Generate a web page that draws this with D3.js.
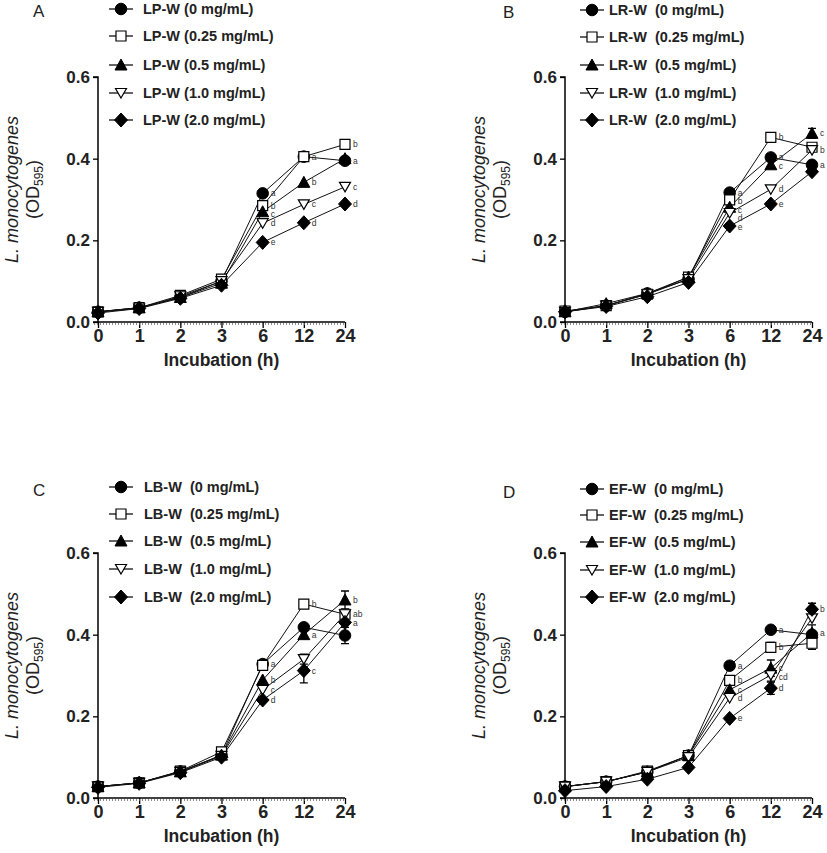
<!DOCTYPE html>
<html><head><meta charset="utf-8">
<script src="https://cdn.jsdelivr.net/npm/d3@7"></script>
<style>body{margin:0;background:#fff}svg{display:block}text{white-space:pre}</style>
</head><body>
<svg id="chart" width="827" height="853"></svg>
<script>
// ---------- DATA ----------
const hours = ["0","1","2","3","6","12","24"];
const doses = ["0 mg/mL","0.25 mg/mL","0.5 mg/mL","1.0 mg/mL","2.0 mg/mL"];
const panelLetters = ["A","B","C","D"];
const extracts = ["LP-W","LR-W","LB-W","EF-W"];
const yTicks = [0.0, 0.2, 0.4, 0.6];
const lettersHours = ["6","12","24"];

// OD595 values, one row per dose (0, 0.25, 0.5, 1.0, 2.0 mg/mL)
const valuesA = [
  [0.025,0.035,0.060,0.100,0.315,0.405,0.395],
  [0.025,0.035,0.065,0.105,0.285,0.405,0.435],
  [0.025,0.035,0.060,0.095,0.270,0.342,0.400],
  [0.025,0.033,0.063,0.100,0.242,0.288,0.331],
  [0.022,0.033,0.058,0.090,0.195,0.243,0.289]
];
const valuesB = [
  [0.025,0.040,0.070,0.105,0.317,0.403,0.385],
  [0.027,0.040,0.068,0.110,0.299,0.452,0.428],
  [0.025,0.045,0.070,0.110,0.281,0.385,0.462],
  [0.025,0.040,0.068,0.105,0.267,0.325,0.421],
  [0.025,0.038,0.062,0.097,0.235,0.289,0.368]
];
const valuesC = [
  [0.028,0.037,0.065,0.105,0.328,0.418,0.398],
  [0.028,0.037,0.066,0.113,0.325,0.475,0.450],
  [0.028,0.037,0.064,0.105,0.289,0.400,0.485],
  [0.028,0.037,0.064,0.103,0.265,0.340,0.450],
  [0.026,0.036,0.062,0.100,0.240,0.312,0.430]
];
const valuesD = [
  [0.028,0.040,0.064,0.104,0.324,0.412,0.400],
  [0.028,0.040,0.066,0.104,0.288,0.369,0.379],
  [0.028,0.040,0.064,0.104,0.265,0.318,0.404],
  [0.028,0.040,0.064,0.100,0.245,0.301,0.440],
  [0.018,0.028,0.046,0.075,0.195,0.269,0.462]
];
// error bars (SD)
const errorsA = [[0,0,0,0,0,0,0],[0,0,0,0,0,0,0],[0,0,0,0,0,0,0],[0,0,0,0,0,0,0],[0,0,0,0,0,0,0]];
const errorsB = [[0,0,0,0,0,0,0],[0,0,0,0,0,0,0],[0,0,0,0,0,0,0.012],[0,0,0,0,0,0,0],[0,0,0,0,0,0,0]];
const errorsC = [[0,0,0,0,0,0,0.02],[0,0,0,0,0,0,0],[0,0,0,0,0,0,0.022],[0,0,0,0,0,0.012,0],[0,0,0,0,0,0.03,0]];
const errorsD = [[0,0,0,0,0,0,0],[0,0,0,0,0,0.012,0.015],[0,0,0,0,0,0.02,0.02],[0,0,0,0,0,0.015,0],[0,0,0,0,0,0.015,0.015]];
// significance letters at 6, 12, 24 h
const lettersA = [["a","","a"],["b","a","b"],["c","b",""],["d","c","c"],["e","d","d"]];
const lettersB = [["a","a","a"],["b","b",""],["c","c","c"],["d","d","b"],["e","e",""]];
const lettersC = [["a","",""],["","b",""],["b","a","b"],["c","","ab"],["d","c","a"]];
const lettersD = [["a","a",""],["b","b",""],["c","c","a"],["d","cd",""],["e","d","b"]];

const allValues = [valuesA, valuesB, valuesC, valuesD];
const allErrors = [errorsA, errorsB, errorsC, errorsD];
const allLetters = [lettersA, lettersB, lettersC, lettersD];

// ---------- LAYOUT ----------
const panels = [
  {ax:98,  ax1:345, y0:322, y1:77,  lx:121, tx:143, gap:" ",  rows:[9,36,65,93,120], title:[33,17]},
  {ax:565, ax1:812, y0:322, y1:77,  lx:592, tx:609, gap:"  ", rows:[10,37,65,93,120], title:[503,18]},
  {ax:98,  ax1:345, y0:798, y1:553, lx:121, tx:144, gap:"  ", rows:[487,514,541,569,597], title:[33,496]},
  {ax:565, ax1:812, y0:798, y1:553, lx:592, tx:609, gap:"  ", rows:[489,515,542,570,597], title:[503,498]}
];
const FONT = "'Liberation Sans', Arial, sans-serif";
const svg = d3.select("#chart");

function marker(g, k, x, y) {
  const s = g.append("path").attr("transform", `translate(${x},${y})`).attr("stroke", "#000");
  if (k === 0) s.attr("d", d3.symbol(d3.symbolCircle, 105)()).attr("fill", "#000");
  if (k === 1) s.attr("d", "M-5,-5H5V5H-5Z").attr("fill", "#fff").attr("stroke-width", 1.2);
  if (k === 2) s.attr("d", "M0,-6L6,5H-6Z").attr("fill", "#000");
  if (k === 3) s.attr("d", "M0,5L5.5,-4.5H-5.5Z").attr("fill", "#fff").attr("stroke-width", 1.2);
  if (k === 4) s.attr("d", "M0,-7L6.5,0L0,7L-6.5,0Z").attr("fill", "#000");
}

panels.forEach((p, pi) => {
  const g = svg.append("g");
  const x = d3.scalePoint().domain(hours).range([p.ax, p.ax1]);
  const y = d3.scaleLinear().domain([0, 0.6]).range([p.y0, p.y1]);

  // y axis
  const yAxis = d3.axisLeft(y).tickValues(yTicks).tickFormat(d3.format(".1f")).tickSize(5).tickPadding(3);
  const ya = g.append("g").attr("transform", `translate(${p.ax},0)`).call(yAxis);
  ya.select(".domain").attr("stroke-width", 1.5).attr("d", `M-5,${p.y1}H0V${p.y0}`);
  ya.selectAll(".tick line").attr("stroke-width", 1.3);
  ya.selectAll("text").attr("font-family", FONT).attr("font-weight", "bold").attr("font-size", 17).attr("fill", "#222");

  // x axis
  const xAxis = d3.axisBottom(x).tickSize(6).tickPadding(1);
  const xa = g.append("g").attr("transform", `translate(0,${p.y0})`).call(xAxis);
  xa.select(".domain").attr("stroke-width", 1.5).attr("d", `M${p.ax-5},0H${p.ax1}`);
  xa.selectAll(".tick line").attr("stroke-width", 1.3);
  xa.selectAll("text").attr("font-family", FONT).attr("font-weight", "bold").attr("font-size", 18).attr("fill", "#222");
  g.append("line").attr("x1", p.ax - 4).attr("x2", p.ax1).attr("y1", p.y0 + 2).attr("y2", p.y0 + 2)
    .attr("stroke", "#666").attr("stroke-width", 1.5).attr("stroke-dasharray", "1,2");

  // axis titles
  g.append("text").attr("x", (p.ax + p.ax1) / 2).attr("y", p.y0 + 44).attr("text-anchor", "middle")
    .attr("font-family", FONT).attr("font-weight", "bold").attr("font-size", 17.5).attr("fill", "#222")
    .text("Incubation (h)");
  const ymid = (p.y0 + p.y1) / 2 - 10;
  g.append("text").attr("transform", `translate(${p.ax - 80},${ymid}) rotate(-90)`).attr("text-anchor", "middle")
    .attr("font-family", FONT).attr("font-style", "italic").attr("font-size", 18).attr("fill", "#222")
    .text("L. monocytogenes");
  const od = g.append("text").attr("transform", `translate(${p.ax - 59},${ymid}) rotate(-90)`).attr("text-anchor", "middle")
    .attr("font-family", FONT).attr("font-size", 18).attr("fill", "#222");
  od.append("tspan").text("(OD");
  od.append("tspan").attr("font-size", 12).attr("dy", 4).text("595");
  od.append("tspan").attr("dy", -4).text(")");

  // panel letter
  g.append("text").attr("x", p.title[0]).attr("y", p.title[1]).attr("font-family", FONT).attr("font-size", 17)
    .attr("fill", "#222").text(panelLetters[pi]);

  const vals = allValues[pi], errs = allErrors[pi], lets = allLetters[pi];
  const line = d3.line().x((d, i) => x(hours[i])).y(d => y(d));
  vals.forEach((s) => {
    g.append("path").attr("d", line(s)).attr("fill", "none").attr("stroke", "#111").attr("stroke-width", 1);
  });
  vals.forEach((s, k) => {
    s.forEach((v, i) => {
      const e = errs[k][i];
      if (!e) return;
      const cx = x(hours[i]);
      g.append("path").attr("d", `M${cx},${y(v - e)}V${y(v + e)}M${cx - 4},${y(v - e)}H${cx + 4}M${cx - 4},${y(v + e)}H${cx + 4}`)
        .attr("stroke", "#000").attr("stroke-width", 1.3).attr("fill", "none");
    });
  });
  vals.forEach((s, k) => {
    s.forEach((v, i) => marker(g, k, x(hours[i]), y(v)));
  });
  // significance letters, nudged apart so they do not collide
  lettersHours.forEach((h, j) => {
    const i = hours.indexOf(h);
    const items = vals.map((s, k) => ({t: lets[k][j], yy: y(s[i]) + 3})).filter(o => o.t);
    items.sort((a, b) => a.yy - b.yy);
    for (let n = 1; n < items.length; n++) {
      if (items[n].yy - items[n - 1].yy < 8.5) items[n].yy = items[n - 1].yy + 8.5;
    }
    items.forEach(o => {
      g.append("text").attr("x", x(h) + 8).attr("y", o.yy).attr("font-family", FONT)
        .attr("font-size", 8.5).attr("fill", "#333").text(o.t);
    });
  });

  // legend
  doses.forEach((d, k) => {
    const ry = p.rows[k];
    g.append("line").attr("x1", p.lx - 12).attr("x2", p.lx + 12).attr("y1", ry).attr("y2", ry)
      .attr("stroke", "#111").attr("stroke-width", 1.3);
    marker(g, k, p.lx, ry);
    g.append("text").attr("x", p.tx).attr("y", ry + 5).attr("font-family", FONT).attr("font-weight", "bold")
      .attr("font-size", 14.5).attr("fill", "#222").text(`${extracts[pi]}${p.gap}(${d})`);
  });
});
</script>
</body></html>
